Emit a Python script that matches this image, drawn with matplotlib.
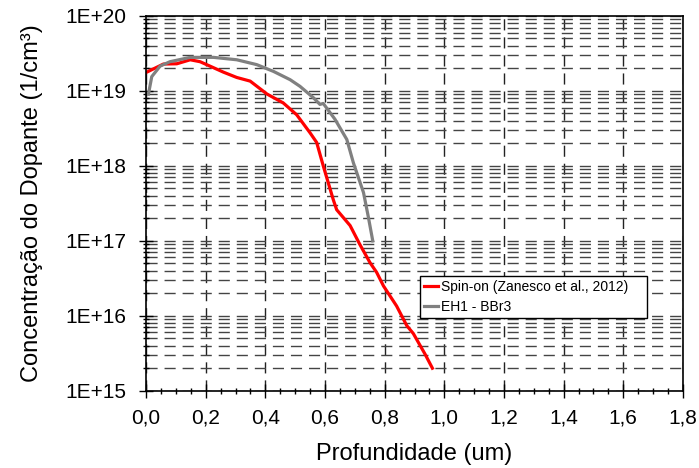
import math
import matplotlib.pyplot as plt
from matplotlib.ticker import LogLocator, MultipleLocator, FuncFormatter, NullFormatter

plt.rcParams['font.family'] = ['Liberation Sans', 'DejaVu Sans']

# Spin-on (Zanesco et al., 2012)
x_spin = [0.0, 0.058, 0.103, 0.148, 0.181, 0.203, 0.259, 0.304, 0.349, 0.405,
          0.460, 0.505, 0.550, 0.572, 0.594, 0.628, 0.639, 0.684, 0.717, 0.751,
          0.773, 0.796, 0.840, 0.874, 0.896, 0.935, 0.960]
y_spin = [1.76e19, 2.28e19, 2.3e19, 2.6e19, 2.45e19, 2.24e19, 1.78e19, 1.51e19,
          1.35e19, 9.1e18, 6.9e18, 4.8e18, 2.75e18, 2.05e18, 1.0e18, 3.5e17,
          2.6e17, 1.6e17, 8.9e16, 5.1e16, 3.8e16, 2.5e16, 1.35e16, 7.4e15,
          5.8e15, 3.1e15, 2.0e15]

# EH1 - BBr3
x_bbr3 = [0.008, 0.019, 0.047, 0.080, 0.148, 0.226, 0.304, 0.371, 0.427, 0.483,
          0.516, 0.561, 0.583, 0.594, 0.633, 0.673, 0.695, 0.729, 0.745, 0.760]
y_bbr3 = [9.1e18, 1.55e19, 2.14e19, 2.45e19, 2.8e19, 2.8e19, 2.6e19, 2.24e19,
          1.82e19, 1.41e19, 1.15e19, 8.1e18, 6.6e18, 6.8e18, 4.2e18, 2.25e18,
          1.1e18, 4.4e17, 2.1e17, 1.0e17]

fig = plt.figure(figsize=(6.99, 4.68), dpi=100)
ax = fig.add_axes([0.209, 0.165, 0.768, 0.801])

ax.plot(x_spin, y_spin, color='#ff0000', lw=2.3, label='Spin-on (Zanesco et al., 2012)')
ax.plot(x_bbr3, y_bbr3, color='#808080', lw=2.3, label='EH1 - BBr3')

ax.set_yscale('log')
ax.set_xlim(0, 1.8)
ax.set_ylim(1e15, 1e20)

ax.xaxis.set_major_locator(MultipleLocator(0.2))
ax.xaxis.set_minor_locator(MultipleLocator(0.05))
ax.xaxis.set_major_formatter(FuncFormatter(lambda v, p: ('%.1f' % v).replace('.', ',')))
ax.yaxis.set_major_locator(LogLocator(base=10, numticks=10))
ax.yaxis.set_minor_locator(LogLocator(base=10, subs=range(2, 10), numticks=20))
ax.yaxis.set_major_formatter(FuncFormatter(lambda v, p: '1E+%d' % round(math.log10(v))))
ax.yaxis.set_minor_formatter(NullFormatter())

ax.grid(True, which='major', axis='x', color='#222222', ls=(0, (8, 5)), lw=1)
ax.grid(True, which='both', axis='y', color='#444444', ls=(0, (8, 5)), lw=1)

ax.tick_params(which='major', direction='inout', length=10, width=1, labelsize=15)
ax.tick_params(axis='y', which='major', pad=9)
ax.tick_params(axis='x', which='major', pad=8)
ax.tick_params(which='minor', direction='inout', length=5, width=1)
for s in ax.spines.values():
    s.set_linewidth(1.2)

ax.set_xlabel('Profundidade (um)', fontsize=17, labelpad=11)
ax.set_ylabel('Concentração do Dopante (1/cm³)', fontsize=17, labelpad=16)

leg = ax.legend(loc='upper left', bbox_to_anchor=(0.510, 0.0, 0.423, 0.306),
                mode='expand', borderaxespad=0,
                fontsize=10, handlelength=1.0, handletextpad=0.2, borderpad=0.3,
                labelspacing=0.4, fancybox=False, framealpha=1, edgecolor='black')
leg.get_frame().set_linewidth(1)

fig.savefig('out.png', dpi=100)
